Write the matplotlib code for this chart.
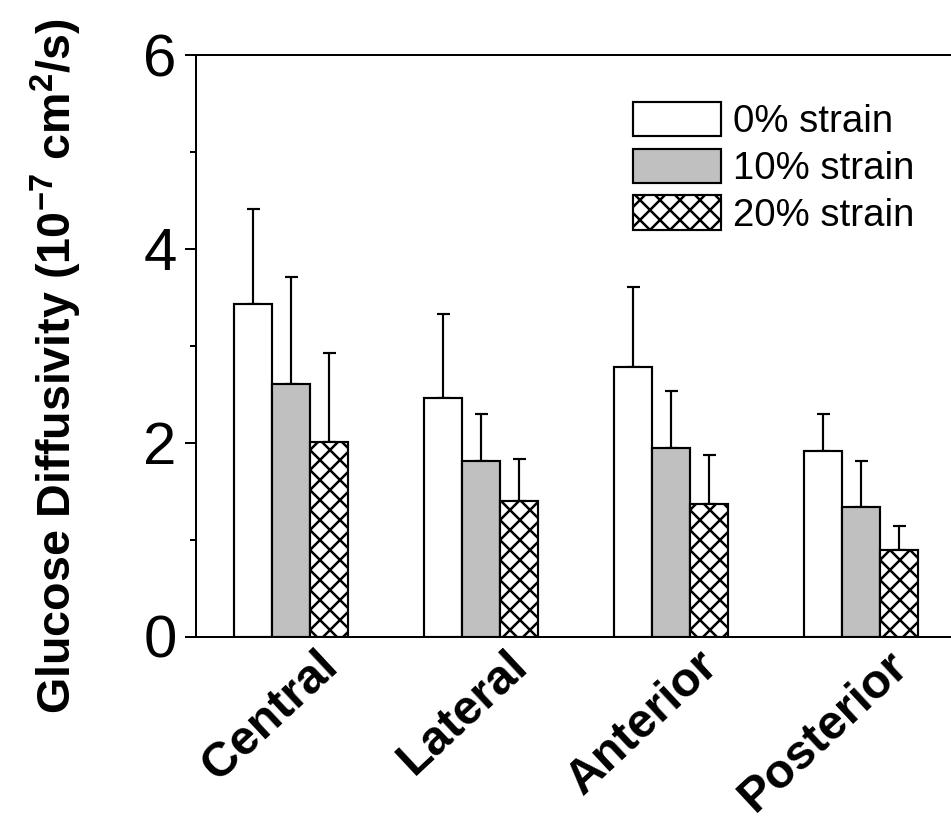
import numpy as np
import matplotlib
matplotlib.use("Agg")
import matplotlib.pyplot as plt
import matplotlib.transforms as mtransforms

# data
regions = ["Central", "Lateral", "Anterior", "Posterior"]
strain_labels = ["0% strain", "10% strain", "20% strain"]
mean_0 = [3.43, 2.46, 2.78, 1.91]
err_0 = [0.98, 0.87, 0.83, 0.39]
mean_10 = [2.61, 1.81, 1.94, 1.34]
err_10 = [1.10, 0.49, 0.59, 0.47]
mean_20 = [2.01, 1.40, 1.37, 0.89]
err_20 = [0.92, 0.43, 0.50, 0.25]

plt.rcParams['font.family'] = ['Liberation Sans', 'DejaVu Sans']
plt.rcParams['mathtext.fontset'] = 'custom'
plt.rcParams['mathtext.rm'] = 'Liberation Sans:bold'
plt.rcParams['mathtext.bf'] = 'Liberation Sans:bold'
plt.rcParams['hatch.linewidth'] = 1.5

DPI = 120
fig = plt.figure(figsize=(951 / DPI, 823 / DPI), dpi=DPI)
ax = fig.add_axes([196 / 951, 1 - 636.5 / 823, 760 / 951, 581.5 / 823])

x = np.arange(len(regions))
w = 0.2
series = [(mean_0, err_0, "white", ""),
          (mean_10, err_10, "#c0c0c0", ""),
          (mean_20, err_20, "white", "xx")]

for k, (m, e, col, hatch) in enumerate(series):
    pos = x + (k - 1) * w
    ax.bar(pos, m, width=w, color=col, edgecolor="black", linewidth=1.3,
           hatch=hatch, label=strain_labels[k], zorder=2)
    ax.errorbar(pos, m, yerr=[np.zeros(len(m)), e], fmt="none", ecolor="black",
                elinewidth=1.3, capsize=3.9, capthick=1.3, zorder=1)

ax.set_xlim(-0.5, 3.5)
ax.set_ylim(0, 6)
ax.set_yticks([0, 2, 4, 6])
ax.set_yticks([1, 3, 5], minor=True)
ax.tick_params(axis="y", which="major", direction="out", length=6.5, width=1.2,
               labelsize=36, pad=5)
ax.tick_params(axis="y", which="minor", direction="out", length=3.5, width=1.2)
ax.tick_params(axis="x", length=0, pad=2)
for s in ax.spines.values():
    s.set_linewidth(1.2)

ax.set_xticks(x)
ax.set_xticklabels(regions, rotation=43, ha="right", va="top",
                   rotation_mode="anchor", fontsize=29, fontweight="bold")
offset = mtransforms.ScaledTranslation(25 / DPI, -3 / DPI, fig.dpi_scale_trans)
for lbl in ax.get_xticklabels():
    lbl.set_transform(lbl.get_transform() + offset)

fig.text(56 / 951, 1 - 366 / 823,
         "Glucose Diffusivity (10$^{-7}$ cm$^{2}$/s)",
         rotation=90, ha="center", va="center", fontsize=28, fontweight="bold")

ax.legend(loc="upper left", bbox_to_anchor=(633 / 951, 1 - 102 / 823),
          bbox_transform=fig.transFigure, frameon=False, fontsize=23,
          handlelength=2.3, handleheight=1.0, handletextpad=0.3,
          labelspacing=0.22, borderpad=0, borderaxespad=0)

fig.savefig("out.png", dpi=DPI)
